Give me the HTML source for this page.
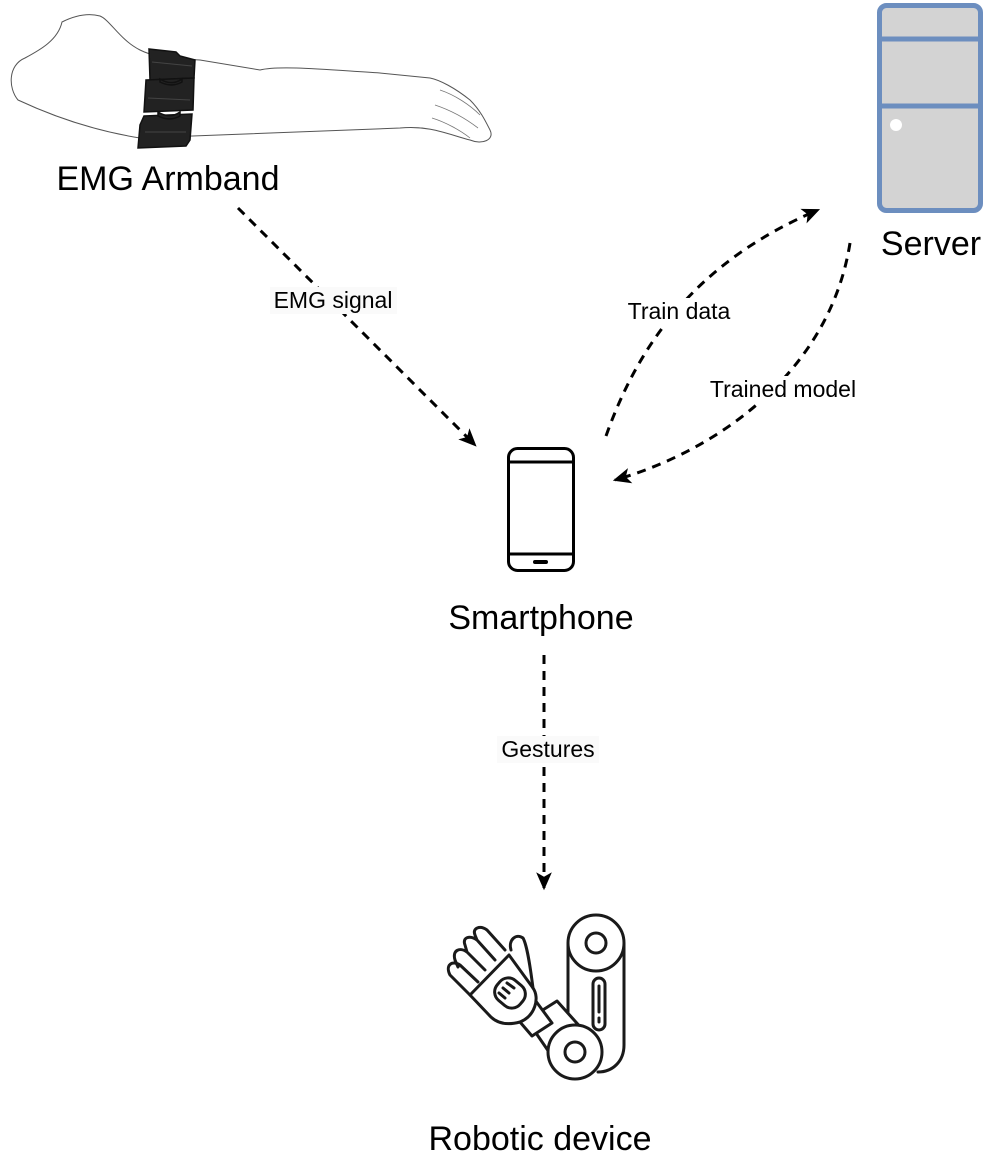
<!DOCTYPE html>
<html><head><style>
body{margin:0;background:#fff;}
svg{display:block;font-family:"Liberation Sans",sans-serif;}
</style></head><body>
<svg width="1000" height="1173" viewBox="0 0 1000 1173" xmlns="http://www.w3.org/2000/svg">
<defs>
<marker id="ah" markerWidth="18" markerHeight="18" refX="14" refY="8" orient="auto" markerUnits="userSpaceOnUse" viewBox="0 0 16 16">
<path d="M0,1 L16,8 L0,15 L4,8 Z" fill="#000"/>
</marker>
</defs>
<!-- arm -->
<path d="M62,22 C58,40 40,50 25,58 C8,65 8,88 18,100 C50,115 90,130 140,138 L400,128 C430,125 450,135 470,140 C482,145 495,140 490,130 C485,120 480,110 470,100 C455,88 440,80 430,78 L380,73 C330,70 280,65 260,70 L200,60 C160,58 150,55 140,50 C120,40 110,20 100,16 C85,12 70,18 62,22 Z" fill="none" stroke="#555" stroke-width="1"/>
<path d="M440,90 C455,95 470,105 480,115 M435,105 C450,110 465,118 478,128 M432,118 C445,122 460,130 470,138" fill="none" stroke="#777" stroke-width="0.8"/>
<!-- armband -->
<g fill="#222" stroke="#111" stroke-width="1.5">
<path d="M149,49 L176,52 L180,56 L195,60 L194,78 L150,80 Z"/>
<path d="M146,80 L194,78 L193,110 L144,112 Z"/>
<path d="M144,116 L192,114 L190,140 L186,146 L138,148 L140,125 Z"/>
<path d="M160,79 C168,84 175,84 182,79 L182,82 C175,86 168,86 160,82 Z"/>
<path d="M158,112 C166,117 173,117 180,112 L180,116 C173,120 166,120 158,116 Z"/>
</g>
<path d="M152,62 L192,66 M148,98 L190,100 M145,132 L186,132" stroke="#444" stroke-width="1"/>
<text x="168" y="190" font-size="34" text-anchor="middle" fill="#000">EMG Armband</text>
<!-- server -->
<rect x="879.5" y="5.5" width="101" height="205" rx="7" fill="#d3d3d3" stroke="#6c8ebf" stroke-width="5"/>
<line x1="879" y1="39" x2="981" y2="39" stroke="#6c8ebf" stroke-width="5"/>
<line x1="879" y1="106" x2="981" y2="106" stroke="#6c8ebf" stroke-width="5"/>
<circle cx="896" cy="125" r="6" fill="#fff"/>
<text x="931" y="255" font-size="34" text-anchor="middle" fill="#000">Server</text>
<!-- smartphone -->
<rect x="508.5" y="448.5" width="65" height="122" rx="9" fill="none" stroke="#000" stroke-width="3"/>
<line x1="508" y1="462" x2="574" y2="462" stroke="#000" stroke-width="3"/>
<line x1="508" y1="554" x2="574" y2="554" stroke="#000" stroke-width="3"/>
<line x1="535" y1="562" x2="546" y2="562" stroke="#000" stroke-width="4" stroke-linecap="round"/>
<text x="541" y="629" font-size="34" text-anchor="middle" fill="#000">Smartphone</text>
<!-- robot -->
<g fill="none" stroke="#1a1a1a" stroke-width="3" stroke-linejoin="round" stroke-linecap="round">
<path d="M568,944 L568,1060 M624,944 L624,1045 C624,1062 612,1072 598,1072"/>
<circle cx="596" cy="943" r="28" fill="#fff"/>
<circle cx="596" cy="943" r="10"/>
<rect x="593" y="978" width="12" height="52" rx="6"/>
<line x1="599" y1="986" x2="599" y2="1012"/><line x1="599" y1="1018" x2="599" y2="1022"/>
<path d="M527,1020 L557,1001 L592,1040 L560,1068 Z" fill="#fff"/>
<circle cx="575" cy="1052" r="27" fill="#fff"/>
<circle cx="575" cy="1052" r="10"/>
<path d="M514,1015 L535,1000 L552,1023 L532,1036 Z" fill="#fff"/>
<path d="M470,995 L509,955 L533,988 C540,998 535,1016 520,1022 C505,1026 495,1022 489,1015 Z" fill="#fff"/>
<path d="M511,950 C508,940 516,933 523,938 C527,945 530,965 533,988"/>
<path d="M470,995 L450,975 C445,965 452,960 460,965 L478,982 M458,967 L455,960 C452,950 460,947 467,952 L485,970 M467,952 L465,945 C462,937 470,935 477,940 L495,960 M477,940 L475,935 C472,928 480,925 487,930 L505,950"/>
<rect x="495" y="980" width="30" height="26" rx="11" transform="rotate(40 510 993)" fill="#fff"/>
<path d="M503,988 L509,993 M507,983 L514,988 M499,993 L505,998"/>
</g>
<text x="540" y="1150" font-size="34" text-anchor="middle" fill="#000">Robotic device</text>
<!-- connectors -->
<g fill="none" stroke="#000" stroke-width="3" stroke-dasharray="9,7">
<path d="M238,208 L475,445" marker-end="url(#ah)"/>
<path d="M606,436 C640,340 700,260 818,210" marker-end="url(#ah)"/>
<path d="M850,243 C830,370 720,450 615,480" marker-end="url(#ah)"/>
<path d="M544,655 L544,888" marker-end="url(#ah)"/>
</g>
<g font-size="23" text-anchor="middle" fill="#000">
<rect x="270" y="287" width="127" height="27" fill="#fafafa"/>
<text x="333" y="308">EMG signal</text>
<rect x="624" y="298" width="110" height="27" fill="#fff"/>
<text x="679" y="319">Train data</text>
<rect x="705" y="376" width="156" height="27" fill="#fff"/>
<text x="783" y="397">Trained model</text>
<rect x="497" y="736" width="102" height="27" fill="#fafafa"/>
<text x="548" y="757">Gestures</text>
</g>
</svg>
</body></html>
